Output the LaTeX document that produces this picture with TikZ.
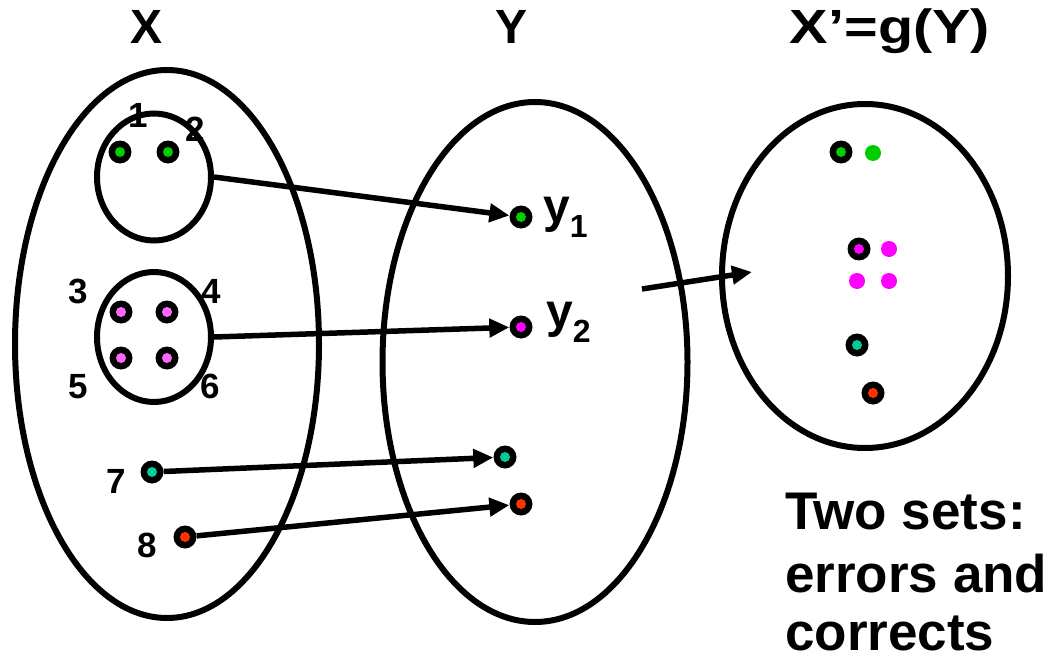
\documentclass[tikz,border=0pt]{standalone}
\usepackage{fontspec}
\setmainfont{Liberation Sans}
\usetikzlibrary{shapes.geometric,arrows.meta}
\definecolor{cgreen}{HTML}{00CC00}
\definecolor{cpink}{HTML}{FF66FF}
\definecolor{cmag}{HTML}{FF00FF}
\definecolor{cteal}{HTML}{00CC99}
\definecolor{cred}{HTML}{FF3300}
\newcommand\mysub[1]{\raisebox{-15pt}{\fontsize{32}{32}\selectfont #1}}
\begin{document}
\begin{tikzpicture}[x=1pt,y=-1pt,
  setbox/.style={draw, ellipse, line width=6pt, inner sep=0pt},
  arr/.style={line width=5.5pt, -{Triangle[length=20pt,width=18pt]}},
  rdot/.style={circle, fill=black, minimum size=23pt, inner sep=0pt,
    path picture={\fill[#1] (path picture bounding box.center) circle (5pt);}},
  pdot/.style={circle, fill=#1, minimum size=16pt, inner sep=0pt},
  lbl/.style={font=\fontsize{35}{35}\selectfont\bfseries, anchor=base, inner sep=0pt},
  ttl/.style={font=\fontsize{48}{48}\selectfont\bfseries, anchor=base, inner sep=0pt},
  big/.style={font=\fontsize{53}{53}\selectfont\bfseries, anchor=base west, inner sep=0pt}]
\useasboundingbox (0,0) rectangle (1061,661);

% sets
\node[setbox, minimum width=304pt, minimum height=548pt] (X) at (167,344) {};
\node[setbox, minimum width=305pt, minimum height=520pt] (Y) at (535,362) {};
\node[setbox, minimum width=286pt, minimum height=344pt] (Xp) at (865,276) {};
\node[setbox, minimum width=114pt, minimum height=127pt] (e1) at (154,177) {};
\node[setbox, minimum width=114pt, minimum height=130pt] (e2) at (154,337) {};

% titles
\node[ttl] (tX) at (147,44) {X};
\node[ttl] (tY) at (512,44) {Y};
\node[ttl, xscale=1.2] (tXp) at (890,44) {X’=g(Y)};

% dots in X
\node[rdot=cgreen] (d1) at (120,152) {};
\node[rdot=cgreen] (d2) at (168,152) {};
\node[rdot=cpink] (d3) at (121,312) {};
\node[rdot=cpink] (d4) at (167,312) {};
\node[rdot=cpink] (d5) at (121,358) {};
\node[rdot=cpink] (d6) at (167,358) {};
\node[rdot=cteal] (d7) at (152,472) {};
\node[rdot=cred] (d8) at (185,537) {};

% labels in X
\node[lbl] (l1) at (138,128) {1};
\node[lbl] (l2) at (195,142) {2};
\node[lbl] (l3) at (78,303) {3};
\node[lbl] (l4) at (211,303) {4};
\node[lbl] (l5) at (78,398) {5};
\node[lbl] (l6) at (210,398) {6};
\node[lbl] (l7) at (116,493) {7};
\node[lbl] (l8) at (147,557) {8};

% dots in Y
\node[rdot=cgreen] (y1) at (521,217) {};
\node[rdot=cmag] (y2) at (521,327) {};
\node[rdot=cteal] (y3) at (505,457) {};
\node[rdot=cred] (y4) at (521,504) {};
\node[ttl, anchor=base west] (ly1) at (543,222) {y\mysub{1}};
\node[ttl, anchor=base west] (ly2) at (546,327) {y\mysub{2}};

% dots in X'
\node[rdot=cgreen] (p1) at (841,152) {};
\node[pdot=cgreen] (p2) at (873,153) {};
\node[rdot=cmag] (p3) at (859,249) {};
\node[pdot=cmag] (p4) at (889,249) {};
\node[pdot=cmag] (p5) at (857,281) {};
\node[pdot=cmag] (p6) at (889,281) {};
\node[rdot=cteal] (p7) at (857,345) {};
\node[rdot=cred] (p8) at (873,393) {};

% arrows
\draw[arr] (e1.east) -- (y1);
\draw[arr] (e2.east) -- (y2);
\draw[arr] (d7) -- (y3);
\draw[arr] (d8) -- (y4);
\coordinate (ga) at (642,289);
\coordinate (gb) at (752,272);
\draw[arr] (ga) -- (gb);

% text
\node[big] (t1) at (785,529) {Two sets:};
\node[big] (t2) at (785,592) {errors and};
\node[big] (t3) at (785,650) {corrects};
\end{tikzpicture}
\end{document}
